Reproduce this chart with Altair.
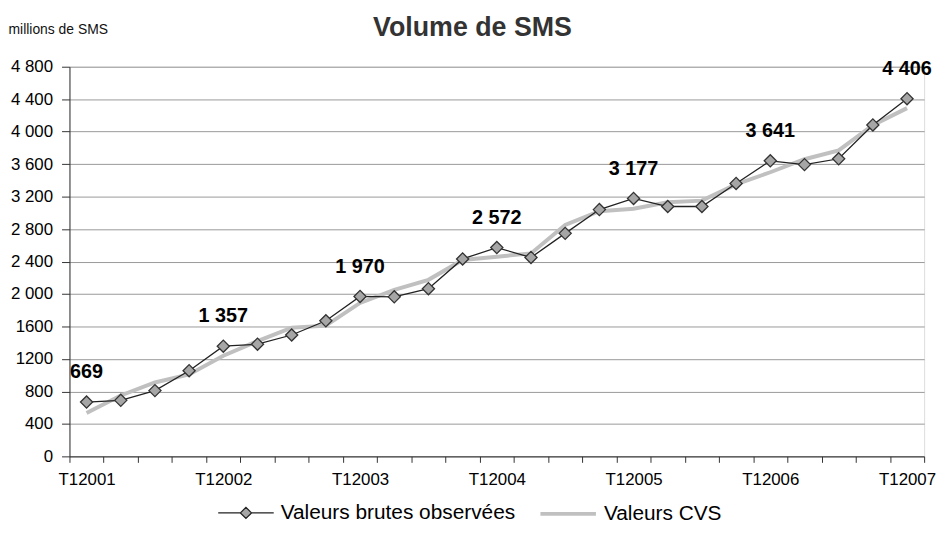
import json
import altair as alt
import pandas as pd

FONT = "Liberation Sans"

periods = [f"T{q}{y}" for y in range(2001, 2008) for q in range(1, 5)][:25]
x_tick_labels = ["T12001", "T12002", "T12003", "T12004", "T12005", "T12006", "T12007"]

brute = [669, 690, 810, 1055, 1357, 1382, 1495, 1670, 1970, 1965, 2065, 2432, 2572,
         2450, 2747, 3040, 3177, 3078, 3078, 3362, 3641, 3594, 3666, 4083, 4406]
cvs = [535, 750, 910, 1010, 1240, 1420, 1585, 1610, 1890, 2050, 2175, 2420, 2460,
       2500, 2850, 3020, 3050, 3130, 3150, 3350, 3500, 3660, 3770, 4080, 4290]

B = "Valeurs brutes observées"
C = "Valeurs CVS"
y_ticks = list(range(0, 4801, 400))


def fmt(v):
    return f"{v:,}".replace(",", " ")


labels_b = [fmt(v) if p in x_tick_labels else "" for p, v in zip(periods, brute)]

long = pd.concat([
    pd.DataFrame({"period": periods, "series": B, "value": brute, "label": labels_b}),
    pd.DataFrame({"period": periods, "series": C, "value": cvs, "label": [""] * len(periods)}),
], ignore_index=True)

x_enc = alt.X(
    "period:N", sort=periods,
    scale=alt.Scale(type="band", paddingInner=0, paddingOuter=0),
    axis=alt.Axis(
        tickBand="extent", grid=False, labelAngle=0,
        labelExpr="indexof(" + json.dumps(x_tick_labels) + ", datum.value) >= 0 ? datum.value : ''",
        labelFont=FONT, labelFontSize=17, labelColor="#000",
        labelPadding=9, labelOverlap=False,
        tickSize=6, tickColor="#333", domainColor="#333",
        title="Volume de SMS", titleX=406, titleY=-424, titleAngle=0,
        titleAlign="center", titleBaseline="alphabetic",
        titleFont=FONT, titleFontSize=27, titleFontWeight="bold", titleColor="#333",
    ),
)
y_enc = alt.Y(
    "value:Q",
    scale=alt.Scale(domain=[0, 4800], nice=False, zero=True),
    axis=alt.Axis(
        values=y_ticks,
        labelExpr="datum.value >= 2000 ? replace(format(datum.value, ','), ',', ' ') : format(datum.value, 'd')",
        labelFont=FONT, labelFontSize=17, labelColor="#000", labelPadding=9,
        tickSize=8, tickColor="#333", domainColor="#333",
        gridColor="#999", gridWidth=1,
        title="millions de SMS", titleAngle=0, titleAlign="left",
        titleBaseline="alphabetic", titleX=-62, titleY=-34,
        titleFont=FONT, titleFontSize=14, titleFontWeight="normal", titleColor="#111",
    ),
)


def make_legend(lx, shape, sw):
    return alt.Legend(
        title=None, orient="none", legendX=lx, legendY=421, direction="horizontal",
        labelFont=FONT, labelFontSize=21, labelColor="#000", labelOffset=6,
        labelLimit=400, symbolSize=3136, symbolStrokeWidth=sw, symbolType=shape,
        symbolFillColor="#a6a6a6",
    )


color_c = alt.Color(
    "series:N",
    scale=alt.Scale(domain=[C], range=["#c0c0c0"]),
    legend=make_legend(473, "M-1,0L1,0", 4),
)
color_b = alt.Color(
    "series:N",
    scale=alt.Scale(domain=[B], range=["#222222"]),
    legend=make_legend(149, "M-1,0L-0.2,0M0.2,0L1,0M0,-0.2L0.2,0L0,0.2L-0.2,0Z", 1.3),
)

base = alt.Chart(long)

cvs_line = base.transform_filter(alt.datum.series == C).mark_line(strokeWidth=4).encode(
    x=x_enc, y=y_enc, color=color_c
)
brute_line = base.transform_filter(alt.datum.series == B).mark_line(strokeWidth=1.3).encode(
    x=x_enc, y=y_enc, color=color_b
)
points = base.transform_filter(alt.datum.series == B).mark_point(
    shape="diamond", filled=True, fill="#a6a6a6", stroke="#333", strokeWidth=1.3,
    size=150, opacity=1
).encode(x=x_enc, y=y_enc)
texts = base.transform_filter("datum.label != ''").mark_text(
    font=FONT, fontSize=20, fontWeight="bold", color="#000", dy=-30, baseline="middle"
).encode(x=x_enc, y=y_enc, text="label:N")

chart = alt.layer(cvs_line, brute_line, points, texts).resolve_scale(
    color="independent"
).properties(
    width=862, height=393,
    autosize=alt.AutoSizeParams(type="none"),
    padding={"left": 62, "top": 57, "right": 16, "bottom": 67},
).configure_view(stroke=None).configure(background="white")

chart.save("out.html", embed_options={"renderer": "svg", "actions": False})
